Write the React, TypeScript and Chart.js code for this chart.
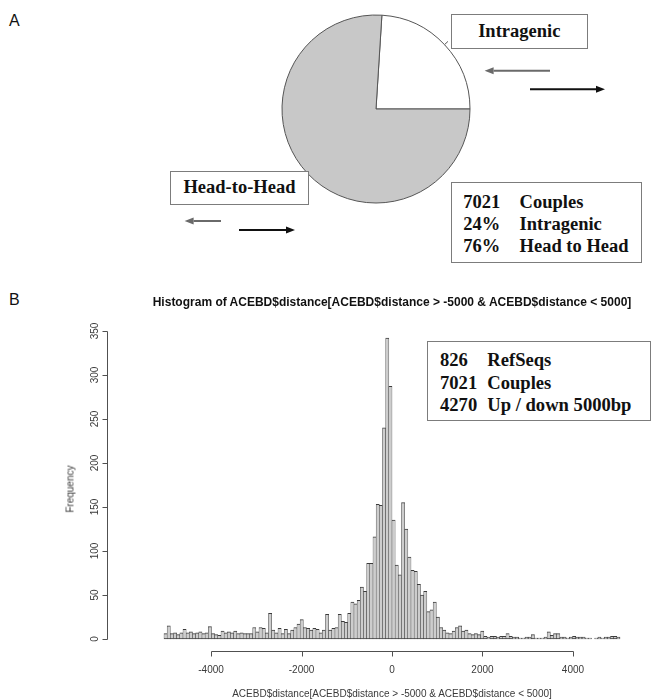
import React, { useEffect, useRef } from 'react';
import { Chart, registerables } from 'chart.js';

Chart.register(...registerables);

// ---------- Panel A data ----------
const PIE_LABELS = ['Intragenic', 'Head-to-Head'];
const PIE_VALUES = [24, 76];
const PIE_COLORS = ['#ffffff', '#c8c8c8'];
const STATS_A_NUMBERS = ['7021', '24%', '76%'];
const STATS_A_WORDS = ['Couples', 'Intragenic', 'Head to Head'];

// ---------- Panel B data ----------
const STATS_B_NUMBERS = ['826', '7021', '4270'];
const STATS_B_WORDS = ['RefSeqs', 'Couples', 'Up / down 5000bp'];
const BIN_FIRST_EDGE = -5040;
const BIN_WIDTH = 70;
// bins from -5040 up to -70
const COUNTS_LEFT = [
  6, 15, 6, 7, 5, 7, 11, 7, 8, 6,
  7, 8, 6, 7, 14, 6, 5, 4, 9, 7,
  8, 7, 9, 6, 7, 6, 6, 6, 13, 8,
  13, 12, 7, 29, 10, 7, 12, 6, 11, 6,
  10, 13, 17, 22, 13, 12, 10, 12, 11, 7,
  10, 28, 10, 12, 13, 28, 20, 19, 29, 42,
  40, 44, 59, 54, 86, 86, 116, 153, 152, 240,
  342,
];
// bins -70..0 and 0..70
const COUNTS_CENTER = [287, 135];
// bins 70..1190
const COUNTS_RIGHT = [84, 73, 155, 125, 93, 78, 77, 62, 50, 54, 31, 33, 42, 25, 13, 10];
// bins 1190..5040
const COUNTS_TAIL = [
  7, 6, 9, 13, 15, 9, 10, 6, 5, 6,
  5, 9, 3, 2, 3, 3, 2, 3, 3, 6,
  3, 2, 2, 1, 1, 2, 2, 5, 1, 1,
  1, 2, 8, 4, 6, 6, 2, 2, 1, 2,
  3, 2, 2, 2, 1, 1, 0, 1, 2, 1,
  2, 2, 3, 3, 2,
];
const COUNTS = [...COUNTS_LEFT, ...COUNTS_CENTER, ...COUNTS_RIGHT, ...COUNTS_TAIL];
const X_TICKS = [-4000, -2000, 0, 2000, 4000];
const X_TICK_LABELS = ['-4000', '-2000', '0', '2000', '4000'];
const Y_TICKS = [0, 50, 100, 150, 200, 250, 300, 350];
const Y_TICK_LABELS = ['0', '50', '100', '150', '200', '250', '300', '350'];
const HIST_TITLE = 'Histogram of ACEBD$distance[ACEBD$distance > -5000 & ACEBD$distance < 5000]';
const X_TITLE = 'ACEBD$distance[ACEBD$distance > -5000 & ACEBD$distance < 5000]';
const Y_TITLE = 'Frequency';

const SERIF = '"Liberation Serif", "Times New Roman", Times, serif';
const SANS = '"Liberation Sans", Arial, Helvetica, sans-serif';

const rAxesPlugin = {
  id: 'rAxes',
  afterDraw(chart: any) {
    const { ctx, chartArea, scales } = chart;
    const xs = scales.x;
    const ys = scales.y;
    ctx.save();
    ctx.strokeStyle = '#505050';
    ctx.lineWidth = 1;
    ctx.fillStyle = '#3a3a3a';
    ctx.font = '10px ' + SANS;
    const yb = Math.round(chartArea.bottom) + 0.5;
    ctx.beginPath();
    ctx.moveTo(Math.round(xs.getPixelForValue(X_TICKS[0])) + 0.5, yb);
    ctx.lineTo(Math.round(xs.getPixelForValue(X_TICKS[X_TICKS.length - 1])) + 0.5, yb);
    X_TICKS.forEach((v) => {
      const px = Math.round(xs.getPixelForValue(v)) + 0.5;
      ctx.moveTo(px, yb);
      ctx.lineTo(px, yb + 5);
    });
    const xl = Math.round(chartArea.left) + 0.5;
    ctx.moveTo(xl, Math.round(ys.getPixelForValue(Y_TICKS[0])) + 0.5);
    ctx.lineTo(xl, Math.round(ys.getPixelForValue(Y_TICKS[Y_TICKS.length - 1])) + 0.5);
    Y_TICKS.forEach((v) => {
      const py = Math.round(ys.getPixelForValue(v)) + 0.5;
      ctx.moveTo(xl, py);
      ctx.lineTo(xl - 5, py);
    });
    ctx.stroke();
    ctx.textAlign = 'center';
    ctx.textBaseline = 'middle';
    X_TICKS.forEach((v, i) => {
      ctx.fillText(X_TICK_LABELS[i], xs.getPixelForValue(v), yb + 19);
    });
    Y_TICKS.forEach((v, i) => {
      ctx.save();
      ctx.translate(xl - 12, ys.getPixelForValue(v));
      ctx.rotate(-Math.PI / 2);
      ctx.fillText(Y_TICK_LABELS[i], 0, 0);
      ctx.restore();
    });
    ctx.restore();
  },
};

const pieLinesPlugin = {
  id: 'pieLines',
  afterDatasetsDraw(chart: any) {
    const meta = chart.getDatasetMeta(0);
    const ctx = chart.ctx;
    ctx.save();
    ctx.strokeStyle = '#555';
    ctx.lineWidth = 1;
    meta.data.forEach((arc: any) => {
      const p = arc.getProps(['x', 'y', 'startAngle', 'endAngle', 'outerRadius'], true);
      const mid = (p.startAngle + p.endAngle) / 2;
      ctx.beginPath();
      ctx.moveTo(p.x + Math.cos(mid) * p.outerRadius, p.y + Math.sin(mid) * p.outerRadius);
      ctx.lineTo(p.x + Math.cos(mid) * p.outerRadius * 1.05, p.y + Math.sin(mid) * p.outerRadius * 1.05);
      ctx.stroke();
    });
    ctx.restore();
  },
};

function Arrow({ x1, x2, y, color }: { x1: number; x2: number; y: number; color: string }) {
  const dir = x2 > x1 ? 1 : -1;
  const headLen = 9;
  const half = 3.5;
  const base = x2 - dir * headLen;
  return (
    <g>
      <line x1={x1} y1={y} x2={base} y2={y} stroke={color} strokeWidth={2} />
      <polygon points={`${x2},${y} ${base},${y - half} ${base},${y + half}`} fill={color} />
    </g>
  );
}

export default function App() {
  const pieRef = useRef<HTMLCanvasElement | null>(null);
  const histRef = useRef<HTMLCanvasElement | null>(null);

  useEffect(() => {
    const pie = new Chart(pieRef.current as HTMLCanvasElement, {
      type: 'pie',
      data: {
        labels: PIE_LABELS,
        datasets: [
          {
            data: PIE_VALUES,
            backgroundColor: PIE_COLORS,
            borderColor: '#555555',
            borderWidth: 1,
          },
        ],
      },
      options: {
        responsive: false,
        animation: false,
        radius: 94,
        rotation: 3.6,
        layout: { padding: 0 },
        plugins: { legend: { display: false }, tooltip: { enabled: false } },
      } as any,
      plugins: [pieLinesPlugin],
    });

    const hist = new Chart(histRef.current as HTMLCanvasElement, {
      type: 'bar',
      data: {
        datasets: [
          {
            data: COUNTS.map((c, i) => ({ x: BIN_FIRST_EDGE + BIN_WIDTH * (i + 0.5), y: c })),
            backgroundColor: '#cdcdcd',
            borderColor: '#3c3c3c',
            borderWidth: { top: 1, left: 0.5, right: 0.5, bottom: 1 },
            borderSkipped: false,
            barPercentage: 1,
            categoryPercentage: 1,
          },
        ],
      },
      options: {
        responsive: false,
        animation: false,
        layout: { padding: { left: 107, right: 23, top: 16, bottom: 49 } },
        scales: {
          x: { type: 'linear', min: -5400, max: 5400, display: false },
          y: { type: 'linear', min: -13.68, max: 355.68, display: false },
        },
        plugins: { legend: { display: false }, tooltip: { enabled: false } },
      } as any,
      plugins: [rAxesPlugin],
    });

    return () => {
      pie.destroy();
      hist.destroy();
    };
  }, []);

  const box: React.CSSProperties = {
    position: 'absolute',
    boxSizing: 'border-box',
    border: '1px solid #7c7c7c',
    background: '#ffffff',
  };
  const boxText: React.CSSProperties = {
    fontFamily: SERIF,
    fontWeight: 'bold',
    fontSize: '18.5px',
    color: '#111',
    whiteSpace: 'nowrap',
  };

  return (
    <div
      style={{
        position: 'absolute',
        left: 0,
        top: 0,
        width: 654,
        height: 700,
        overflow: 'hidden',
        background: '#ffffff',
      }}
    >
      <div style={{ position: 'absolute', left: 9, top: 11, fontFamily: SANS, fontSize: 16, lineHeight: '20px', color: '#111' }}>A</div>
      <div style={{ position: 'absolute', left: 9, top: 290, fontFamily: SANS, fontSize: 16, lineHeight: '20px', color: '#111' }}>B</div>

      <canvas
        ref={pieRef}
        width={200}
        height={200}
        style={{ position: 'absolute', left: 276, top: 9.3, width: 200, height: 200 }}
      />

      <svg width={654} height={300} style={{ position: 'absolute', left: 0, top: 0 }}>
        <Arrow x1={550} x2={484.6} y={70.7} color="#6a6a6a" />
        <Arrow x1={530} x2={605} y={89.3} color="#111111" />
        <Arrow x1={221} x2={184.6} y={221} color="#6a6a6a" />
        <Arrow x1={239} x2={295} y={230} color="#111111" />
      </svg>

      <div style={{ ...box, left: 451, top: 14, width: 136.5, height: 35.3, display: 'flex', alignItems: 'center', justifyContent: 'center' }}>
        <span style={boxText}>{PIE_LABELS[0]}</span>
      </div>
      <div style={{ ...box, left: 170, top: 170.7, width: 139, height: 34.3, display: 'flex', alignItems: 'center', justifyContent: 'center' }}>
        <span style={boxText}>{PIE_LABELS[1]}</span>
      </div>
      <div style={{ ...box, left: 451, top: 181.7, width: 190.7, height: 81 }}>
        {STATS_A_NUMBERS.map((n, i) => (
          <React.Fragment key={n + i}>
            <div style={{ ...boxText, position: 'absolute', left: 11.3, top: 19 + i * 22.2 - 11, lineHeight: '22px' }}>{n}</div>
            <div style={{ ...boxText, position: 'absolute', left: 67.6, top: 19 + i * 22.2 - 11, lineHeight: '22px' }}>{STATS_A_WORDS[i]}</div>
          </React.Fragment>
        ))}
      </div>

      <canvas
        ref={histRef}
        width={700}
        height={390}
        style={{ position: 'absolute', left: 0, top: 310, width: 700, height: 390 }}
      />
      <div
        style={{
          position: 'absolute',
          left: 392,
          top: 302,
          transform: 'translate(-50%, -50%)',
          fontFamily: SANS,
          fontWeight: 'bold',
          fontSize: 12,
          whiteSpace: 'nowrap',
          color: '#111',
        }}
      >
        {HIST_TITLE}
      </div>
      <div
        style={{
          position: 'absolute',
          left: 392,
          top: 692.7,
          transform: 'translate(-50%, -50%)',
          fontFamily: SANS,
          fontSize: 10,
          whiteSpace: 'nowrap',
          color: '#3a3a3a',
        }}
      >
        {X_TITLE}
      </div>
      <div
        style={{
          position: 'absolute',
          left: 70,
          top: 488.5,
          transform: 'translate(-50%, -50%) rotate(-90deg)',
          fontFamily: SANS,
          fontSize: 10,
          whiteSpace: 'nowrap',
          color: '#3a3a3a',
        }}
      >
        {Y_TITLE}
      </div>

      <div style={{ ...box, left: 427, top: 341, width: 224, height: 80 }}>
        {STATS_B_NUMBERS.map((n, i) => (
          <React.Fragment key={n + i}>
            <div style={{ ...boxText, fontSize: '18.6px', position: 'absolute', left: 12, top: 18 + i * 22.5 - 11, lineHeight: '22px' }}>{n}</div>
            <div style={{ ...boxText, fontSize: '18.6px', position: 'absolute', left: 59.3, top: 18 + i * 22.5 - 11, lineHeight: '22px' }}>{STATS_B_WORDS[i]}</div>
          </React.Fragment>
        ))}
      </div>
    </div>
  );
}
